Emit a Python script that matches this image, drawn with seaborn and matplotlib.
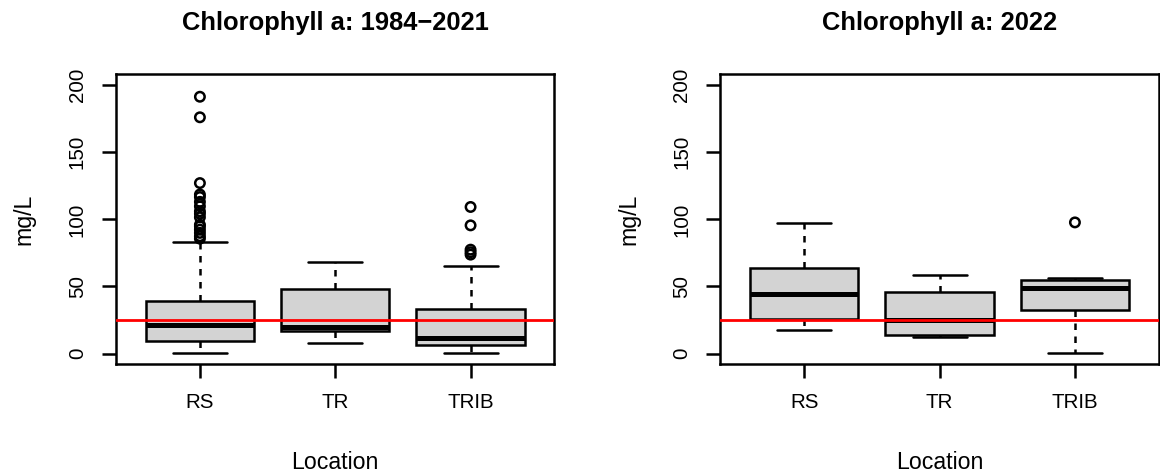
import numpy as np
import pandas as pd
import matplotlib
matplotlib.use("Agg")
import matplotlib.pyplot as plt
from matplotlib.collections import PathCollection
import seaborn as sns

# ---------------- data ----------------
locations = ["RS", "TR", "TRIB"]
titles = ["Chlorophyll a: 1984\u22122021", "Chlorophyll a: 2022"]

# Panel 1: 1984-2021 five-number summaries per location
hist_whisker_low = [0.7, 7.7, 0.2]
hist_q1 = [9.4, 16.6, 6.2]
hist_median = [21.3, 19.8, 11.9]
hist_q3 = [39.4, 48.0, 32.9]
hist_whisker_high = [82.9, 68.3, 65.1]
hist_outliers_RS = [85.6, 87.4, 89.9, 92.3, 94.8, 96.0, 101.5, 104.2, 106.0,
                    109.7, 113.0, 116.6, 118.5, 127.0, 176.0, 191.3]
hist_outliers_TR = []
hist_outliers_TRIB = [73.7, 75.5, 77.4, 95.5, 109.2]

# Panel 2: 2022
cur_whisker_low = [17.6, 12.4, 0.7]
cur_q1 = [26.0, 14.2, 32.4]
cur_median = [44.3, 25.0, 48.7]
cur_q3 = [63.6, 45.5, 54.7]
cur_whisker_high = [97.3, 58.2, 56.4]
cur_outliers_RS = []
cur_outliers_TR = []
cur_outliers_TRIB = [97.7]

threshold = 25
y_ticks = [0, 50, 100, 150, 200]
y_label = "mg/L"
x_label = "Location"

# ---------------- style ----------------
sns.set_theme(style="white")
plt.rcParams["font.family"] = ["Liberation Sans", "DejaVu Sans"]
plt.rcParams["axes.unicode_minus"] = True

fig = plt.figure(figsize=(11.6, 4.74), dpi=100)
ax1 = fig.add_axes([0.1, 0.2314, 0.378, 0.6118])
ax2 = fig.add_axes([0.621, 0.2314, 0.378, 0.6118])

LW = 1.8


def summary_frame(wl, q1, med, q3, wh):
    rows = []
    for loc, a, b, c, d, e in zip(locations, wl, q1, med, q3, wh):
        for v in (a, b, c, d, e):
            rows.append({"Location": loc, "value": v})
    return pd.DataFrame(rows)


def outlier_frame(outs):
    rows = []
    for loc, vals in zip(locations, outs):
        for v in vals:
            rows.append({"Location": loc, "value": v})
    return pd.DataFrame(rows, columns=["Location", "value"])


def draw_panel(ax, box_df, out_df, title):
    sns.boxplot(data=box_df, x="Location", y="value", order=locations,
                whis=(0, 100), showfliers=False, width=0.8,
                color="#D3D3D3", saturation=1, linecolor="black",
                linewidth=LW,
                medianprops={"linewidth": 3.6, "color": "black",
                             "solid_capstyle": "butt"},
                whiskerprops={"linestyle": (0, (2.6, 2.6))},
                ax=ax)
    n_before = len(ax.collections)
    if len(out_df):
        sns.stripplot(data=out_df, x="Location", y="value", order=locations,
                      jitter=False, color="black", marker="o", size=6.8,
                      linewidth=LW, edgecolor="black", ax=ax, zorder=5)
        for coll in ax.collections[n_before:]:
            if isinstance(coll, PathCollection):
                coll.set_facecolor("none")
                coll.set_edgecolor("black")
    ax.axhline(threshold, color="#FF0000", linewidth=2.0, zorder=6)

    ax.set_xlim(-0.62, 2.62)
    ax.set_ylim(-8, 208)
    ax.set_xticks(range(len(locations)), labels=locations)
    ax.set_yticks(y_ticks, labels=[str(t) for t in y_ticks],
                  rotation=90, va="center")
    ax.tick_params(axis="both", direction="out", length=10, width=LW,
                   labelsize=14.75, pad=11, color="black",
                   bottom=True, left=True, labelcolor="black")
    for sp in ax.spines.values():
        sp.set_visible(True)
        sp.set_color("black")
        sp.set_linewidth(LW)
    ax.set_xlabel(x_label, fontsize=16.7, labelpad=28, color="black")
    ax.set_ylabel(y_label, fontsize=16.7, labelpad=23, color="black")
    ax.set_title(title, fontsize=18.4, fontweight="bold", pad=32,
                 color="black")
    ax.grid(False)


draw_panel(ax1,
           summary_frame(hist_whisker_low, hist_q1, hist_median, hist_q3,
                         hist_whisker_high),
           outlier_frame([hist_outliers_RS, hist_outliers_TR,
                          hist_outliers_TRIB]),
           titles[0])
draw_panel(ax2,
           summary_frame(cur_whisker_low, cur_q1, cur_median, cur_q3,
                         cur_whisker_high),
           outlier_frame([cur_outliers_RS, cur_outliers_TR,
                          cur_outliers_TRIB]),
           titles[1])

fig.savefig("out.png", dpi=100, facecolor="white")
